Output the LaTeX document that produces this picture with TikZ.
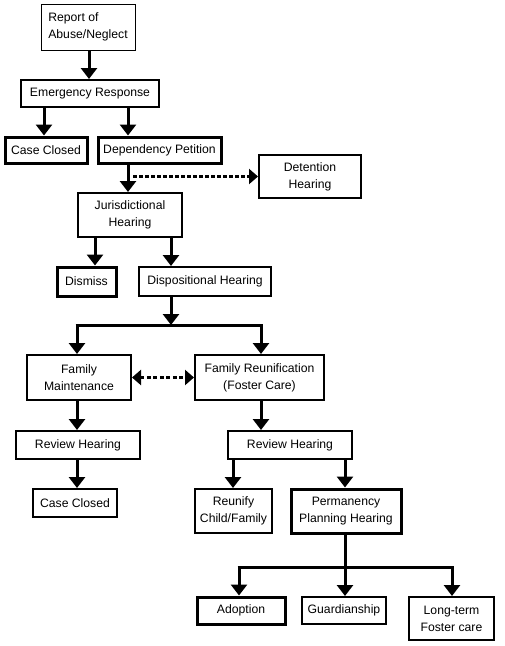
\documentclass[tikz,border=0pt]{standalone}
\usepackage{fontspec}
\setmainfont{Liberation Sans}
\usetikzlibrary{arrows.meta}
\begin{document}
\begin{tikzpicture}[x=1pt,y=-1pt,
  box/.style={draw,rectangle,inner sep=0pt,align=center,font=\fontsize{12.2}{17}\selectfont,line width=2pt},
  thinbox/.style={box,line width=1pt},
  heavybox/.style={box,line width=3pt},
  arr/.style={line width=3pt,-{Triangle[width=16pt,length=11pt]}},
  bar/.style={line width=3pt},
  dotarr/.style={line width=3.5pt,dash pattern=on 4pt off 2pt,-{Triangle[width=15pt,length=9pt]}},
  dotdbl/.style={line width=3.5pt,dash pattern=on 4pt off 2.5pt,{Triangle[width=15pt,length=9pt]}-{Triangle[width=15pt,length=9pt]}}
]
\useasboundingbox (0,0) rectangle (504,646);
\fill[white] (0,0) rectangle (504,646);

\node[thinbox,minimum width=94pt,minimum height=46pt,align=left] (report) at (88,27) {Report of\\Abuse/Neglect};
\node[box,minimum width=138pt,minimum height=27pt] (emerg) at (90,93.5) {Emergency Response};
\node[heavybox,minimum width=82pt,minimum height=26pt] (cc1) at (46,150) {Case Closed};
\node[heavybox,minimum width=123pt,minimum height=26pt] (dep) at (159.5,150) {Dependency Petition};
\node[box,minimum width=102pt,minimum height=43pt] (det) at (310,176.5) {Detention\\Hearing};
\node[box,minimum width=104pt,minimum height=44pt] (jur) at (130,215) {Jurisdictional\\Hearing};
\node[heavybox,minimum width=59pt,minimum height=29pt] (dis) at (86.5,281.5) {Dismiss};
\node[box,minimum width=132pt,minimum height=29pt] (disp) at (205,281.5) {Dispositional Hearing};
\node[box,minimum width=104pt,minimum height=45pt] (fm) at (79,377.5) {Family\\Maintenance};
\node[box,minimum width=129pt,minimum height=45pt] (fr) at (259.5,377.5) {Family Reunification\\(Foster Care)};
\node[box,minimum width=124pt,minimum height=28pt] (rh1) at (78,445) {Review Hearing};
\node[box,minimum width=124pt,minimum height=28pt] (rh2) at (290,445) {Review Hearing};
\node[box,minimum width=84pt,minimum height=28pt] (cc2) at (75,503) {Case Closed};
\node[box,minimum width=77pt,minimum height=44pt] (reu) at (233.5,511) {Reunify\\Child/Family};
\node[heavybox,minimum width=110pt,minimum height=44pt] (perm) at (346,511) {Permanency\\Planning Hearing};
\node[heavybox,minimum width=88pt,minimum height=27pt] (adop) at (241,610.5) {Adoption};
\node[box,minimum width=84pt,minimum height=27pt] (guard) at (344,610.5) {Guardianship};
\node[box,minimum width=85pt,minimum height=43pt] (ltfc) at (451.5,618.5) {Long-term\\Foster care};

\coordinate (x44) at (44,0);
\coordinate (x89) at (89,0);
\coordinate (x128) at (128,0);
\coordinate (x95) at (95,0);
\coordinate (x171) at (171,0);
\coordinate (x77) at (77,0);
\coordinate (x261) at (261,0);
\coordinate (x233) at (233,0);
\coordinate (x345) at (345,0);
\coordinate (x239) at (239,0);
\coordinate (x452) at (452,0);
\coordinate (bar1) at (171,325);
\coordinate (bar2) at (345,567);
\coordinate (b1l) at (77,325);
\coordinate (b1r) at (261,325);
\coordinate (b2l) at (239,567);
\coordinate (b2r) at (452,567);

\draw[arr] (x89 |- report.south) -- (x89 |- emerg.north);
\draw[arr] (x44 |- emerg.south) -- (x44 |- cc1.north);
\draw[arr] (x128 |- emerg.south) -- (x128 |- dep.north);
\draw[arr] (x128 |- dep.south) -- (x128 |- jur.north);
\draw[dotarr] ([xshift=5pt]x128 |- det.west) -- (det.west);
\draw[arr] (x95 |- jur.south) -- (x95 |- dis.north);
\draw[arr] (x171 |- jur.south) -- (x171 |- disp.north);
\draw[arr] (x171 |- disp.south) -- (bar1);
\draw[bar] ([xshift=-1.5pt]b1l) -- ([xshift=1.5pt]b1r);
\draw[arr] (b1l) -- (x77 |- fm.north);
\draw[arr] (b1r) -- (x261 |- fr.north);
\draw[dotdbl] (fm.east) -- (fr.west);
\draw[arr] (x77 |- fm.south) -- (x77 |- rh1.north);
\draw[arr] (x261 |- fr.south) -- (x261 |- rh2.north);
\draw[arr] (x77 |- rh1.south) -- (x77 |- cc2.north);
\draw[arr] (x233 |- rh2.south) -- (x233 |- reu.north);
\draw[arr] (x345 |- rh2.south) -- (x345 |- perm.north);
\draw[arr] (x345 |- perm.south) -- (x345 |- guard.north);
\draw[bar] ([xshift=-1.5pt]b2l) -- ([xshift=1.5pt]b2r);
\draw[arr] (b2l) -- (x239 |- adop.north);
\draw[arr] (b2r) -- (x452 |- ltfc.north);
\end{tikzpicture}
\end{document}
